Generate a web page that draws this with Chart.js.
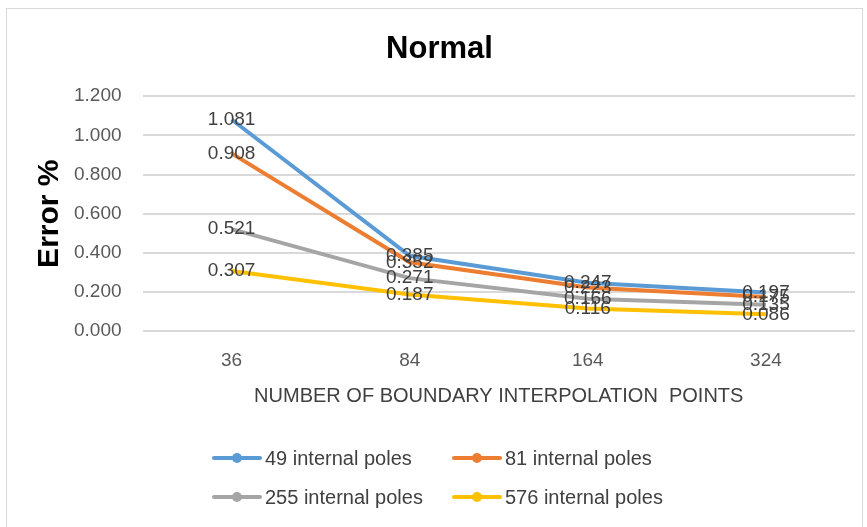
<!DOCTYPE html>
<html>
<head>
<meta charset="utf-8">
<script src="https://cdn.jsdelivr.net/npm/chart.js@4"></script>
<style>
  html, body { margin: 0; padding: 0; background: #fff; }
  #wrap { position: relative; width: 867px; height: 527px; overflow: hidden; }
  #frame { position: absolute; left: 6px; top: 8px; width: 855px; height: 540px; border: 1px solid #d9d9d9; }
  #myChart { position: absolute; left: 0; top: 0; }
  #legend { position: absolute; left: 0; top: 0; width: 867px; height: 527px; pointer-events: none;
    font-family: "Liberation Sans", Arial, sans-serif; font-size: 20px; color: #404040; }
  .item { position: absolute; display: flex; align-items: center; height: 24px; white-space: nowrap; }
  .mark { position: relative; width: 50px; height: 24px; margin-right: 3px; }
  .mark .ln { position: absolute; left: 0; top: 10px; width: 50px; height: 4px; border-radius: 2px; }
  .mark .dot { position: absolute; left: 20px; top: 7px; width: 10px; height: 10px; border-radius: 50%; }
</style>
</head>
<body>
<div id="wrap">
  <div id="frame"></div>
  <canvas id="myChart" width="867" height="527"></canvas>
  <div id="legend"></div>
</div>
<script>
const categories = ["36", "84", "164", "324"];
const seriesNames = ["49 internal poles", "81 internal poles", "255 internal poles", "576 internal poles"];
const poles49 = [1.081, 0.385, 0.247, 0.197];
const poles81 = [0.908, 0.352, 0.223, 0.175];
const poles255 = [0.521, 0.271, 0.166, 0.135];
const poles576 = [0.307, 0.187, 0.116, 0.086];
const colors = ["#5b9bd5", "#ed7d31", "#a5a5a5", "#ffc000"];
const yTicks = [0, 0.2, 0.4, 0.6, 0.8, 1.0, 1.2];

const font = "'Liberation Sans', Arial, sans-serif";

// value labels centred on each point, like the original
const valueLabels = {
  id: "valueLabels",
  afterDatasetsDraw(chart) {
    const ctx = chart.ctx;
    ctx.save();
    ctx.font = "19px " + font;
    ctx.fillStyle = "#404040";
    ctx.textAlign = "center";
    ctx.textBaseline = "middle";
    chart.data.datasets.forEach((ds, i) => {
      chart.getDatasetMeta(i).data.forEach((pt, j) => {
        ctx.fillText(ds.data[j].toFixed(3), pt.x, pt.y);
      });
    });
    ctx.restore();
  },
};

const sets = [poles49, poles81, poles255, poles576];
const data = {
  labels: categories,
  datasets: sets.map((vals, i) => ({
    label: seriesNames[i],
    data: vals,
    borderColor: colors[i],
    backgroundColor: colors[i],
    borderWidth: 4,
    pointRadius: 0,
    tension: 0,
  })),
};

const ctx = document.getElementById("myChart").getContext("2d");
const chart = new Chart(ctx, {
  type: "line",
  data: data,
  plugins: [valueLabels],
  options: {
    responsive: false,
    animation: false,
    layout: { padding: { left: 24, right: 12, top: 0, bottom: 119 } },
    plugins: {
      legend: { display: false },
      tooltip: { enabled: false },
      title: {
        display: true,
        text: "Normal",
        color: "#000",
        font: { family: font, size: 31, weight: "bold" },
        padding: { top: 31, bottom: 28 },
      },
    },
    scales: {
      x: {
        offset: true,
        grid: { color: "transparent", drawOnChartArea: false, drawTicks: true, tickLength: 18, tickColor: "transparent" },
        border: { display: false },
        ticks: { color: "#595959", font: { family: font, size: 19 }, padding: 0 },
        title: {
          display: true,
          text: "NUMBER OF BOUNDARY INTERPOLATION  POINTS",
          color: "#404040",
          font: { family: font, size: 20 },
          padding: { top: 12, bottom: 0 },
        },
      },
      y: {
        min: 0,
        max: 1.2,
        afterBuildTicks: (axis) => { axis.ticks = yTicks.map((v) => ({ value: v })); },
        grid: { color: "#d9d9d9", lineWidth: 2, drawTicks: true, tickLength: 21, tickColor: "transparent" },
        border: { display: false },
        ticks: {
          color: "#595959",
          font: { family: font, size: 19 },
          padding: 0,
          callback: (v) => Number(v).toFixed(3),
        },
        title: {
          display: true,
          text: "Error %",
          color: "#000",
          font: { family: font, size: 30, weight: "bold" },
          padding: { top: 8, bottom: 6 },
        },
      },
    },
  },
});

// legend laid out as a 2 x 2 grid, built from the datasets
const legendPos = [[212, 458], [452, 458], [212, 497], [452, 497]];
const legendEl = document.getElementById("legend");
chart.data.datasets.forEach((ds, i) => {
  const item = document.createElement("div");
  item.className = "item";
  item.style.left = legendPos[i][0] + "px";
  item.style.top = (legendPos[i][1] - 12) + "px";
  item.innerHTML = '<span class="mark"><span class="ln" style="background:' + ds.borderColor +
    '"></span><span class="dot" style="background:' + ds.borderColor + '"></span></span><span>' +
    ds.label + "</span>";
  legendEl.appendChild(item);
});
</script>
</body>
</html>
